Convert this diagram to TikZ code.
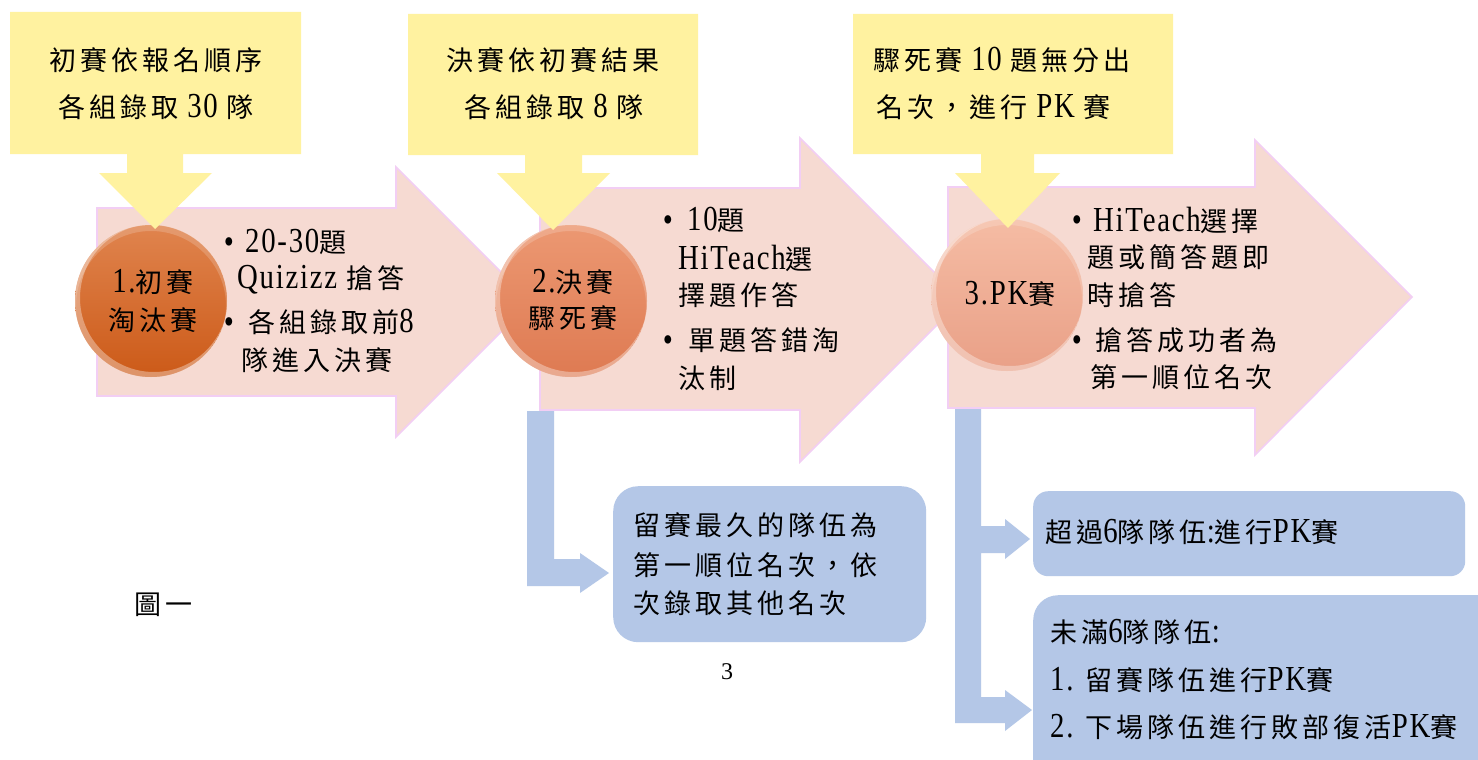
\documentclass[tikz,border=0pt]{standalone}
\usepackage{fontspec}
\setmainfont{Noto Sans CJK TC}[LetterSpace=15]
\newfontfamily\latf{Liberation Serif}[Scale=1.3,FakeStretch=0.82,LetterSpace=5]
\newfontfamily\pagenumfont{Liberation Serif}
\newcommand\lat[1]{{\latf #1}}
\newcommand\tsize{\fontsize{27pt}{32pt}\selectfont}
\usetikzlibrary{calc}
\definecolor{yel}{RGB}{255,242,160}
\definecolor{pinkA}{RGB}{246,218,210}
\definecolor{pinkB}{RGB}{242,206,244}
\definecolor{blu}{RGB}{180,199,231}
\definecolor{cat}{RGB}{224,132,78}
\definecolor{cab}{RGB}{204,90,24}
\definecolor{cbt}{RGB}{236,152,114}
\definecolor{cbb}{RGB}{222,122,82}
\definecolor{cct}{RGB}{245,188,164}
\definecolor{ccb}{RGB}{233,160,135}
\begin{document}
\begin{tikzpicture}[x=1pt,y=-1pt,
  txt/.style={inner sep=0pt, anchor=west, font=\tsize},
  ctxt/.style={inner sep=0pt, anchor=center, font=\tsize},
  bul/.style={inner sep=0pt, anchor=center, font=\tsize\latf},
  pinkarrow/.style={fill=pinkA, draw=pinkB, line width=1.6pt, line join=miter},
  callout/.style={fill=yel, draw=none},
  bluearrow/.style={fill=blu, draw=none},
  bluebox/.style={fill=blu, draw=none, rounded corners=#1, inner sep=0pt, anchor=north west},
  ball/.style={circle, minimum size=152pt, inner sep=0pt, draw=none}
]
\useasboundingbox (0,0) rectangle (1478,760);
\clip (0,0) rectangle (1478,760);
\fill[white] (0,0) rectangle (1478,760);

% blue connectors
\fill[bluearrow] (527,411) -- (554,411) -- (554,559) -- (580,559) -- (580,553) -- (609,573) -- (580,593) -- (580,586) -- (527,586) -- cycle;
\fill[bluearrow] (955,409) -- (981,409) -- (981,526) -- (1005,526) -- (1005,519) -- (1030,539) -- (1005,559) -- (1005,553) -- (981,553) -- (981,697) -- (1005,697) -- (1005,690) -- (1032,710) -- (1005,731) -- (1005,723) -- (955,723) -- cycle;

% pink arrows
\draw[pinkarrow] (97,208) -- (396,208) -- (396,167) -- (531,302) -- (396,437) -- (396,396) -- (97,396) -- cycle;
\draw[pinkarrow] (540,188) -- (800,188) -- (800,138) -- (962,300) -- (800,462) -- (800,410) -- (540,410) -- cycle;
\draw[pinkarrow] (948,187) -- (1255,187) -- (1255,140) -- (1412,297) -- (1255,455) -- (1255,408) -- (948,408) -- cycle;

% balls
\node[ball, top color=cat, bottom color=cab] (c1) at (151,301) {};
\node[ball, top color=cbt, bottom color=cbb] (c2) at (571,301) {};
\node[ball, top color=cct, bottom color=ccb] (c3) at (1007,295) {};
\foreach \c in {c1,c2,c3}{
  \begin{scope}
    \clip (\c) circle (76);
    \fill[white, opacity=.35, even odd rule] (\c) circle (76) ($(\c)+(3,-3)$) circle (74);
    \fill[white, opacity=.18, even odd rule] (\c) circle (76) ($(\c)+(0,5)$) circle (75);
  \end{scope}
}

% yellow callouts
\fill[callout] (10,12) -- (301,12) -- (301,154) -- (183,154) -- (183,173) -- (212,173) -- (155,229) -- (99,173) -- (127,173) -- (127,154) -- (10,154) -- cycle;
\fill[callout] (408,14) -- (698,14) -- (698,155) -- (582,155) -- (582,173) -- (610,173) -- (553,230) -- (497,173) -- (525,173) -- (525,155) -- (408,155) -- cycle;
\fill[callout] (853,14) -- (1173,14) -- (1173,154) -- (1034,154) -- (1034,173) -- (1060,173) -- (1008,228) -- (955,173) -- (981,173) -- (981,154) -- (853,154) -- cycle;

% blue boxes
\node[bluebox=25pt, minimum width=313pt, minimum height=156pt] (bA) at (613,486) {};
\node[bluebox=15pt, minimum width=432pt, minimum height=85pt] (bB) at (1033,491) {};
\node[bluebox=25pt, minimum width=470pt, minimum height=200pt] (bC) at (1033,595) {};

% callout texts
\node[ctxt] (y1a) at (156,60) {初賽依報名順序};
\node[ctxt] (y1b) at (156,107) {各組錄取\lat{ 30 }隊};
\node[ctxt] (y2a) at (553,60) {決賽依初賽結果};
\node[ctxt] (y2b) at (554,107) {各組錄取\lat{ 8 }隊};
\node[txt] (y3a) at (873,60) {驟死賽\lat{ 10 }題無分出};
\node[txt] (y3b) at (876,107) {名次，進行\lat{ PK }賽};

% ball texts
\node[ctxt] (t1a) at (153,282) {\lat{1.}初賽};
\node[ctxt] (t1b) at (153,320) {淘汰賽};
\node[ctxt] (t2a) at (573,282) {\lat{2.}決賽};
\node[ctxt] (t2b) at (573,318) {驟死賽};
\node[ctxt] (t3) at (1010,294) {\lat{3.PK}賽};

% arrow 1 bullets
\node[bul] (b1a) at (229,246) {•};
\node[txt] (a1a) at (245,242) {\lat{20-30}題};
\node[txt] (a1b) at (237,280) {\lat{Quizizz }搶答};
\node[bul] (b1b) at (229,326) {•};
\node[txt] (a1c) at (248,322) {各組錄取前\lat{8}};
\node[txt] (a1d) at (241,360) {隊進入決賽};

% arrow 2 bullets
\node[bul] (b2a) at (668,224) {•};
\node[txt] (a2a) at (687,220) {\lat{10}題};
\node[txt] (a2b) at (678,258) {\lat{HiTeach}選};
\node[txt] (a2c) at (678,295) {擇題作答};
\node[bul] (b2b) at (668,344) {•};
\node[txt] (a2d) at (688,340) {單題答錯淘};
\node[txt] (a2e) at (678,378) {汰制};

% arrow 3 bullets
\node[bul] (b3a) at (1077,224) {•};
\node[txt] (a3a) at (1093,220) {\lat{HiTeach}選擇};
\node[txt] (a3b) at (1087,257) {題或簡答題即};
\node[txt] (a3c) at (1087,295) {時搶答};
\node[bul] (b3b) at (1077,344) {•};
\node[txt] (a3d) at (1095,340) {搶答成功者為};
\node[txt] (a3e) at (1090,377) {第一順位名次};

% blue box texts
\node[txt] (bA1) at (633,525) {留賽最久的隊伍為};
\node[txt] (bA2) at (633,565) {第一順位名次，依};
\node[txt] (bA3) at (633,603) {次錄取其他名次};
\node[txt] (bB1) at (1045,532) {超過\lat{6}隊隊伍\lat{:}進行\lat{PK}賽};
\node[txt] (bC1) at (1050,632) {未滿\lat{6}隊隊伍\lat{:}};
\node[txt] (bC2) at (1050,680) {\lat{1. }留賽隊伍進行\lat{PK}賽};
\node[txt] (bC3) at (1050,727) {\lat{2. }下場隊伍進行敗部復活\lat{PK}賽};

% figure label and page number
\node[ctxt] (fig) at (164,605) {圖一};
\node[inner sep=0pt, font=\fontsize{24pt}{28pt}\selectfont\pagenumfont] (pg) at (727,672) {3};
\end{tikzpicture}
\end{document}
